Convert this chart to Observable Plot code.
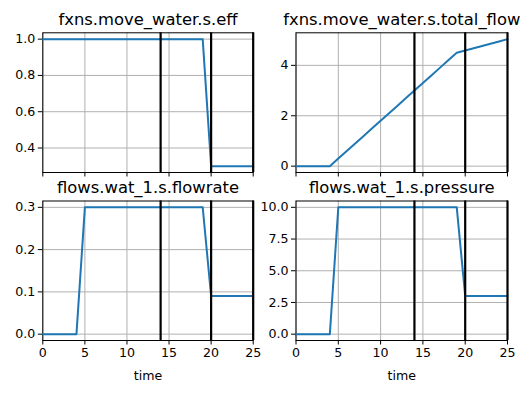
<!DOCTYPE html>
<html>
<head>
<meta charset="utf-8">
<script src="https://cdn.jsdelivr.net/npm/d3@7"></script>
<script src="https://cdn.jsdelivr.net/npm/@observablehq/plot@0.6"></script>
<style>
  body { margin: 0; background: white; }
  #wrap { position: relative; width: 531px; height: 393px; background: white; font-family: "DejaVu Sans", sans-serif; }
  #wrap > svg { position: absolute; overflow: visible; }
</style>
</head>
<body>
<div id="wrap"></div>
<script>
const time = [0,1,2,3,4,5,6,7,8,9,10,11,12,13,14,15,16,17,18,19,20,21,22,23,24,25];
const eff = [1,1,1,1,1,1,1,1,1,1,1,1,1,1,1,1,1,1,1,1,0.3,0.3,0.3,0.3,0.3,0.3];
const totalFlow = [0,0,0,0,0,0.3,0.6,0.9,1.2,1.5,1.8,2.1,2.4,2.7,3.0,3.3,3.6,3.9,4.2,4.5,4.59,4.68,4.77,4.86,4.95,5.04];
const flowrate = [0,0,0,0,0,0.3,0.3,0.3,0.3,0.3,0.3,0.3,0.3,0.3,0.3,0.3,0.3,0.3,0.3,0.3,0.09,0.09,0.09,0.09,0.09,0.09];
const pressure = [0,0,0,0,0,10,10,10,10,10,10,10,10,10,10,10,10,10,10,10,3,3,3,3,3,3];
const markers = [14, 20, 25];
const xTicks = [0, 5, 10, 15, 20, 25];

const panels = [
  {title: "fxns.move_water.s.eff", values: eff, yTicks: [0.4, 0.6, 0.8, 1.0], fmt: ".1f", bottom: false, left: 0, top: 0},
  {title: "fxns.move_water.s.total_flow", values: totalFlow, yTicks: [0, 2, 4], fmt: "d", bottom: false, left: 1, top: 0},
  {title: "flows.wat_1.s.flowrate", values: flowrate, yTicks: [0, 0.1, 0.2, 0.3], fmt: ".1f", bottom: true, left: 0, top: 1},
  {title: "flows.wat_1.s.pressure", values: pressure, yTicks: [0, 2.5, 5, 7.5, 10], fmt: ".1f", bottom: true, left: 1, top: 1}
];

const wrap = document.getElementById("wrap");
for (const p of panels) {
  const data = time.map((t, i) => ({t, v: p.values[i]}));
  const lo = d3.min(p.values), hi = d3.max(p.values), pad = (hi - lo) * 0.05;
  const svgLeft = p.left ? 265 : 0;
  const svgTop = p.top ? 186 : 0;
  const width = p.left ? 266 : 265;
  const height = p.top ? 207 : 186;
  const marginLeft = p.left ? 30.5 : 42.3;
  const marginRight = p.left ? 24 : 12.3;
  const marginTop = p.top ? 14.5 : 32.3;
  const marginBottom = p.top ? 53 : 14;
  const marks = [
    Plot.gridX(xTicks, {stroke: "#b0b0b0", strokeOpacity: 1, strokeWidth: 1}),
    Plot.gridY(p.yTicks, {stroke: "#b0b0b0", strokeOpacity: 1, strokeWidth: 1}),
    Plot.frame({stroke: "black", strokeWidth: 1}),
    Plot.line(data, {x: "t", y: "v", stroke: "#1f77b4", strokeWidth: 2}),
    Plot.ruleX(markers, {stroke: "black", strokeWidth: 2.2}),
    Plot.axisY(p.yTicks, {tickFormat: d3.format(p.fmt), tickSize: 4.5, tickPadding: 3, fontSize: 12.6, label: null, stroke: "black", fill: "black"}),
    Plot.axisX(xTicks, {tickFormat: p.bottom ? d3.format("d") : () => "", tickSize: 4.5, tickPadding: 3, fontSize: 12.6, label: null, stroke: "black", fill: "black"}),
    Plot.text([p.title], {text: d => d, frameAnchor: "top", dy: -8, lineAnchor: "bottom", fontSize: 16.4, fill: "black"})
  ];
  if (p.bottom) {
    marks.push(Plot.text(["time"], {text: d => d, frameAnchor: "bottom", dy: 35, lineAnchor: "middle", fontSize: 12.6, fill: "black"}));
  }
  const svg = Plot.plot({
    width, height, marginLeft, marginRight, marginTop, marginBottom,
    style: {fontFamily: "DejaVu Sans", fontSize: "12.6px", background: "transparent", overflow: "visible", color: "black"},
    x: {domain: [0, 25]},
    y: {domain: [lo - pad, hi + pad]},
    marks
  });
  svg.style.left = svgLeft + "px";
  svg.style.top = svgTop + "px";
  wrap.appendChild(svg);
}
</script>
</body>
</html>
